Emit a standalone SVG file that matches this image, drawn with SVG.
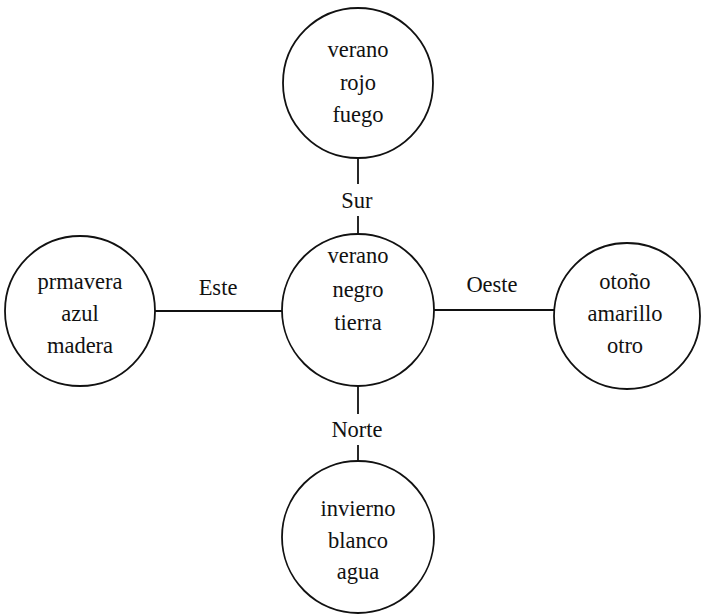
<svg xmlns="http://www.w3.org/2000/svg" width="702" height="615" viewBox="0 0 702 615">
<style>
.n{fill:#fff;stroke:#111;stroke-width:1.8}
.c{stroke:#111;stroke-width:1.8;fill:none}
text{font-family:"Liberation Serif","Times New Roman",serif;font-size:22.5px;fill:#111;text-anchor:middle}
</style>
<rect width="702" height="615" fill="#fff"/>
<g id="connectors">
<line class="c" x1="358" y1="158" x2="358" y2="184"/>
<line class="c" x1="358" y1="216" x2="358" y2="234"/>
<text x="357" y="208">Sur</text>
<line class="c" x1="155" y1="311" x2="282" y2="311"/>
<text x="218" y="295">Este</text>
<line class="c" x1="434" y1="310" x2="555" y2="310"/>
<text x="492" y="292">Oeste</text>
<line class="c" x1="358" y1="386" x2="358" y2="414"/>
<line class="c" x1="358" y1="445" x2="358" y2="461"/>
<text x="357" y="437">Norte</text>
</g>
<g id="top">
<circle class="n" cx="358" cy="83" r="75"/>
<text x="358" y="57">verano</text>
<text x="358" y="90">rojo</text>
<text x="358" y="122">fuego</text>
</g>
<g id="center">
<circle class="n" cx="358" cy="310" r="76"/>
<text x="358" y="263">verano</text>
<text x="358" y="297">negro</text>
<text x="358" y="330">tierra</text>
</g>
<g id="left">
<circle class="n" cx="80" cy="311" r="75"/>
<text x="80" y="289">prmavera</text>
<text x="80" y="321">azul</text>
<text x="80" y="353">madera</text>
</g>
<g id="right">
<circle class="n" cx="627" cy="316" r="73"/>
<text x="625" y="289">otoño</text>
<text x="625" y="321">amarillo</text>
<text x="625" y="353">otro</text>
</g>
<g id="bottom">
<circle class="n" cx="358" cy="537" r="76"/>
<text x="358" y="516">invierno</text>
<text x="358" y="548">blanco</text>
<text x="358" y="579">agua</text>
</g>
</svg>
